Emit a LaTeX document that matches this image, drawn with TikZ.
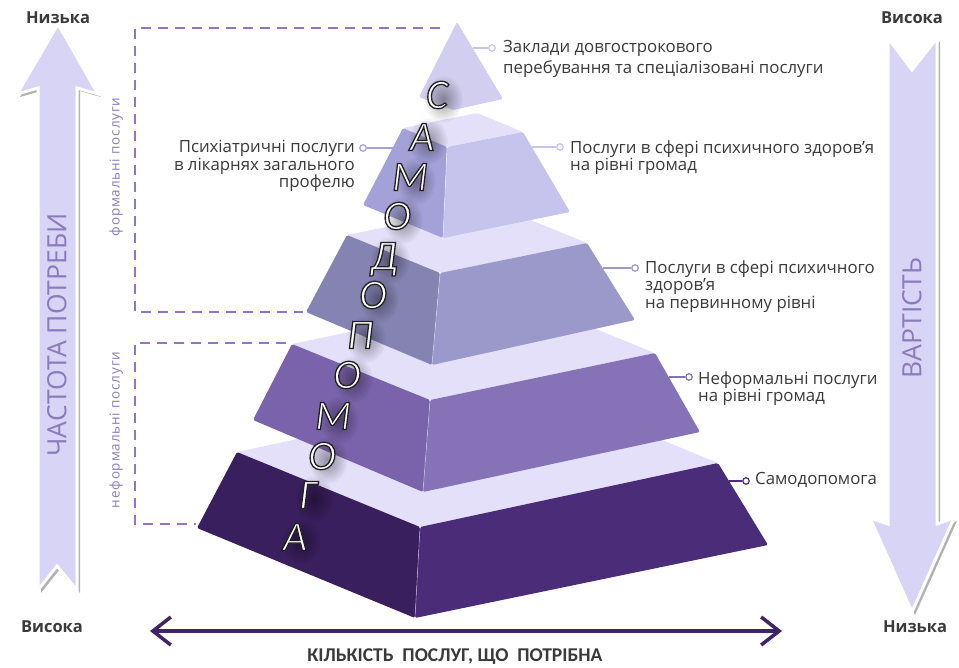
\documentclass[tikz,border=0pt]{standalone}
\usepackage{fontspec}
\setmainfont{Open Sans}
\newfontfamily\calib{Carlito}
\newfontfamily\spaced[LetterSpace=6]{Open Sans}
\usetikzlibrary{arrows.meta,shadows,fadings}
\tikzfading[name=fuzzy, inner color=transparent!25, outer color=transparent!100]
\definecolor{tone}{HTML}{D2CEF0}
\definecolor{ttop}{HTML}{E4E0FA}
\definecolor{ttwoL}{HTML}{A4A1D9}
\definecolor{ttwoR}{HTML}{C6C3EC}
\definecolor{tthrL}{HTML}{8583B2}
\definecolor{tthrR}{HTML}{9B99C9}
\definecolor{tfouL}{HTML}{7A63AA}
\definecolor{tfouR}{HTML}{8672B7}
\definecolor{tfivL}{HTML}{3A1F5E}
\definecolor{tfivR}{HTML}{4B2C79}
\definecolor{arrowfill}{HTML}{D8D4F6}
\definecolor{arrowtext}{HTML}{8B7BBD}
\definecolor{dashc}{HTML}{9274C6}
\definecolor{textgray}{HTML}{3A3A3A}
\definecolor{bottomc}{HTML}{3F2568}
\newcommand\outlined[1]{\special{pdf:literal direct 2 Tr 1.3 w 0.13 0.13 0.13 RG}#1\special{pdf:literal direct 0 Tr}}
\newcommand\pyrletter[4]{%
  \fill[black, opacity=.5, path fading=fuzzy] (#2+6,#3+4) ellipse (20 and 24);
  \node[ltr, text=white] (#1) at (#2,#3) {\outlined{#4}};
}
\begin{document}
\begin{tikzpicture}[x=1pt,y=-1pt,
  face/.style={rounded corners=1.5pt},
  lbl/.style={font=\fontsize{16.8}{17.5}\selectfont, text=textgray, inner sep=0pt, align=left},
  dot/.style={circle, draw=#1, fill=white, line width=1.2pt, minimum size=6.5pt, inner sep=0pt},
  conn/.style={draw=#1, line width=2pt},
  bracket/.style={draw=dashc, line width=2.5pt, dash pattern=on 10pt off 7pt},
  ltr/.style={font=\calib\itshape\fontsize{42}{42}\selectfont, inner sep=0pt, text height=27pt, text depth=0pt},
  bigarrow/.style={fill=arrowfill, draw=white, line width=3pt, line join=miter,
    drop shadow={shadow xshift=3pt, shadow yshift=-3pt, opacity=0.3, fill=black}},
  axislbl/.style={font=\bfseries\fontsize{16.5}{16.5}\selectfont, text=textgray, inner sep=0pt},
  arrtxt/.style={font=\fontsize{26.5}{26.5}\selectfont, text=arrowtext, rotate=90, inner sep=0pt},
  grptxt/.style={font=\spaced\fontsize{13.5}{13.5}\selectfont, text=arrowtext, rotate=90, inner sep=0pt},
  hair/.style={draw=white, opacity=0.45, line width=0.6pt},
]
\useasboundingbox (0,0) rectangle (959,668);
\fill[white] (0,0) rectangle (959,668);

% big arrows
\path[bigarrow] (58,24) -- (98,94) -- (77,88) -- (77,590) -- (57,566) -- (38,590) -- (38,88) -- (17,94) -- cycle;
\path[bigarrow] (888,38) -- (912,70) -- (937,38) -- (937,524) -- (954,518) -- (912,612) -- (870,518) -- (888,524) -- cycle;
\node[arrtxt] (freq) at (57,335) {ЧАСТОТА ПОТРЕБИ};
\node[arrtxt] (cost) at (912,318) {ВАРТІСТЬ};

\node[axislbl] (lowL) at (58,18) {Низька};
\node[axislbl] (highL) at (52,627) {Висока};
\node[axislbl] (highR) at (912,18) {Висока};
\node[axislbl] (lowR) at (915,627) {Низька};

% brackets
\draw[bracket] (440,28) -- (135,28) -- (135,312) -- (303,312);
\draw[bracket] (286,343) -- (135,343) -- (135,524) -- (196,524);
\node[grptxt] (formal) at (116,167) {формальні послуги};
\node[grptxt] (informal) at (116,430) {неформальні послуги};

% pyramid tier 5
\fill[ttop, face] (237,452) -- (535,388) -- (718,463) -- (420,527) -- cycle;
\fill[tfivL, face] (237,452) -- (420,527) -- (415,618) -- (197,528) -- cycle;
\fill[tfivR, face] (420,527) -- (718,463) -- (768,545) -- (415,618) -- cycle;
\draw[hair] (420,528) -- (415,617);
% tier 4
\fill[ttop, face] (292,344) -- (517,297) -- (655,353) -- (430,400) -- cycle;
\fill[tfouL, face] (292,344) -- (430,400) -- (423,492) -- (253,420) -- cycle;
\fill[tfouR, face] (430,400) -- (655,353) -- (700,432) -- (423,492) -- cycle;
\draw[hair] (430,401) -- (423,491);
% tier 3
\fill[ttop, face] (347,235) -- (494,205) -- (587,243) -- (440,273) -- cycle;
\fill[tthrL, face] (347,235) -- (440,273) -- (432,365) -- (306,312) -- cycle;
\fill[tthrR, face] (440,273) -- (587,243) -- (635,320) -- (432,365) -- cycle;
\draw[hair] (440,274) -- (432,364);
% tier 2
\fill[ttop, face] (403,128) -- (477,113) -- (523,132) -- (447,147) -- cycle;
\fill[ttwoL, face] (403,128) -- (447,147) -- (443,238) -- (363,205) -- cycle;
\fill[ttwoR, face] (447,147) -- (523,132) -- (570,212) -- (443,238) -- cycle;
\draw[hair] (447,148) -- (443,237);
% tier 1
\fill[tone, face] (457,22) -- (503,99) -- (453,110) -- (419,97) -- cycle;

% connectors
\coordinate (e1) at (473,48);
\coordinate (e2) at (393,148);
\coordinate (e3) at (532,147);
\coordinate (e4) at (603,268);
\coordinate (e5) at (669,377);
\coordinate (e6) at (729,481);
\node[dot=ttwoR] (d1) at (492,48) {};
\node[dot=ttwoL] (d2) at (363,148) {};
\node[dot=ttwoR] (d3) at (560,147) {};
\node[dot=tthrR] (d4) at (635,268) {};
\node[dot=tfouR] (d5) at (689,377) {};
\node[dot=tfivR] (d6) at (746,481) {};
\draw[conn=ttwoR] (e1) -- (d1);
\draw[conn=ttwoL] (e2) -- (d2);
\draw[conn=ttwoR] (e3) -- (d3);
\draw[conn=tthrR] (e4) -- (d4);
\draw[conn=tfouR] (e5) -- (d5);
\draw[conn=tfivR] (e6) -- (d6);

% labels
\node[lbl, anchor=west] (l1) at (503,59) {Заклади довгострокового\\[4pt]перебування та спеціалізовані послуги};
\node[lbl, anchor=east, align=right] (l2) at (355,166) {Психіатричні послуги\\в лікарнях загального\\профелю};
\node[lbl, anchor=west] (l3) at (570,157.5) {Послуги в сфері психичного здоров’я\\на рівні громад};
\node[lbl, anchor=west] (l4) at (645,286.5) {Послуги в сфері психичного\\здоров’я\\на первинному рівні};
\node[lbl, anchor=west] (l5) at (698,388.5) {Неформальні послуги\\на рівні громад};
\node[lbl, anchor=west] (l6) at (755,480) {Самодопомога};

% vertical word
\pyrletter{s1}{437}{95}{С}
\pyrletter{s2}{422}{137}{А}
\pyrletter{s3}{410}{177}{М}
\pyrletter{s4}{397}{216}{О}
\pyrletter{s5}{384}{256}{Д}
\pyrletter{s6}{373}{295}{О}
\pyrletter{s7}{360}{335}{П}
\pyrletter{s8}{347}{375}{О}
\pyrletter{s9}{333}{416}{М}
\pyrletter{s10}{322}{456}{О}
\pyrletter{s11}{308}{495}{Г}
\pyrletter{s12}{295}{537}{А}

% bottom axis
\coordinate (aL) at (150,631);
\coordinate (aR) at (782,631);
\draw[line width=4pt, draw=bottomc,
  {Straight Barb[length=18pt, width=28pt, line width=3.5pt]}-{Straight Barb[length=18pt, width=28pt, line width=3.5pt]}] (aL) -- (aR);
\node[font=\calib\bfseries\fontsize{19.5}{19.5}\selectfont, text=textgray, inner sep=0pt] (xlab) at (455,657) {КІЛЬКІСТЬ\ \ ПОСЛУГ, ЩО\ \ ПОТРІБНА};
\end{tikzpicture}
\end{document}
